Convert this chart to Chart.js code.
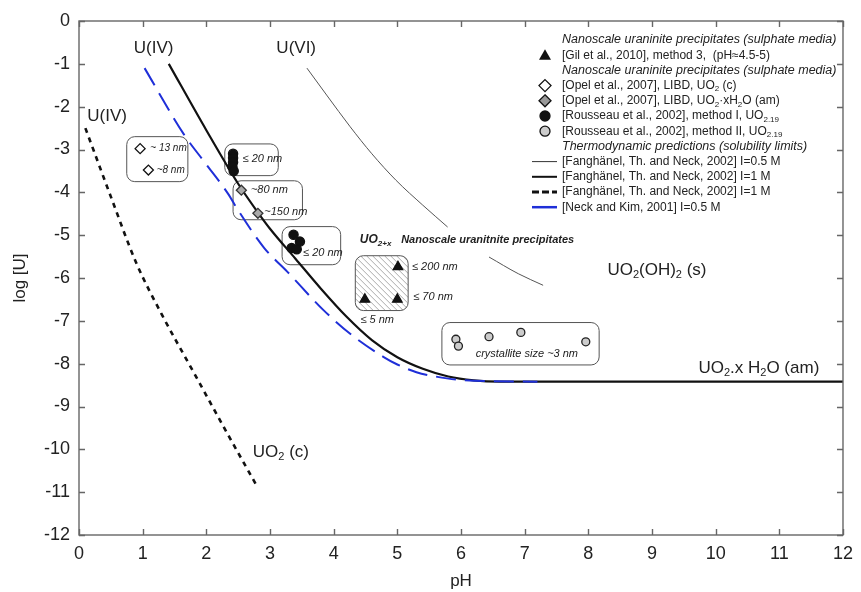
<!DOCTYPE html>
<html>
<head>
<meta charset="utf-8">
<title>log [U] vs pH</title>
<script src="https://cdn.jsdelivr.net/npm/chart.js"></script>
<style>
  html, body { margin: 0; padding: 0; background: #fff; }
</style>
</head>
<body>
<canvas id="uChart" width="861" height="592"></canvas>
<script>
// ---- solubility curves (pH, log[U]) ----
const u4PH   = [1.41, 2.0, 2.5, 2.8, 3.0, 3.4, 3.8, 4.2, 4.6, 5.0, 5.4, 5.8, 6.2, 6.6, 12];
const u4Log  = [-1.0, -2.55, -3.8, -4.45, -4.85, -5.55, -6.25, -6.9, -7.45, -7.85, -8.12, -8.3, -8.39, -8.42, -8.42];
const nkPH   = [1.03, 1.64, 2.0, 2.34, 2.5, 2.91, 3.27, 3.84, 4.3, 4.78, 5.0, 5.3, 5.6, 6.0, 7.2];
const nkLog  = [-1.1, -2.63, -3.35, -4.03, -4.42, -5.3, -5.85, -6.75, -7.35, -7.84, -8.02, -8.2, -8.3, -8.38, -8.42];
const uo2cPH  = [0.1, 0.5, 0.9, 1.3, 1.8, 2.3, 2.81];
const uo2cLog = [-2.5, -4.1, -5.65, -6.85, -8.2, -9.55, -10.9];
// U(VI) curve, interrupted where the label crosses it
const u6aPH  = [3.58, 3.9, 4.26, 4.6, 4.98, 5.4, 5.79];
const u6aLog = [-1.1, -1.75, -2.47, -3.1, -3.72, -4.3, -4.81];
const u6bPH  = [6.44, 6.9, 7.29];
const u6bLog = [-5.51, -5.9, -6.17];

// ---- measured points ----
const gilPH   = [5.01, 4.49, 5.0];
const gilLog  = [-5.74, -6.5, -6.5];
const opelcPH  = [0.96, 1.09];
const opelcLog = [-2.98, -3.48];
const opelaPH  = [2.55, 2.81];
const opelaLog = [-3.95, -4.49];
const rous1PH  = [2.42, 2.42, 2.42, 2.41, 2.43, 3.37, 3.47, 3.34, 3.42];
const rous1Log = [-3.1, -3.2, -3.3, -3.4, -3.5, -4.99, -5.15, -5.3, -5.33];
const rous2PH  = [5.92, 5.96, 6.44, 6.94, 7.96];
const rous2Log = [-7.43, -7.59, -7.37, -7.27, -7.49];

const xTicks = [0, 1, 2, 3, 4, 5, 6, 7, 8, 9, 10, 11, 12];
const yTicks = [0, -1, -2, -3, -4, -5, -6, -7, -8, -9, -10, -11, -12];

// boxes round the point groups, in data units [pH0, pH1, log0, log1]
const boxes = [
  [0.75, 1.71, -2.70, -3.75],
  [2.29, 3.13, -2.87, -3.61],
  [2.42, 3.51, -3.73, -4.64],
  [3.19, 4.11, -4.80, -5.69],
  [5.70, 8.17, -7.04, -8.03]
];
const hatchBox = [4.34, 5.17, -5.48, -6.76];

// labels in the plot: [text, pH, log, font]
const FONT = '"Liberation Sans", Arial, sans-serif';
const NARROW = '"Liberation Sans Narrow", "Liberation Sans", Arial, sans-serif';
const plotLabels = [
  ['U(IV)', 0.86, -0.64, '17px ' + FONT],
  ['U(VI)', 3.10, -0.63, '17px ' + FONT],
  ['U(IV)', 0.13, -2.23, '17px ' + FONT],
  ['UO_{2}(OH)_{2} (s)', 8.3, -5.81, '17px ' + FONT],
  ['UO_{2}.x H_{2}O (am)', 9.73, -8.10, '17px ' + FONT],
  ['UO_{2} (c)', 2.73, -10.06, '17px ' + FONT],
  ['~ 13 nm', 1.12, -2.96, 'italic 10px ' + NARROW],
  ['~8 nm', 1.22, -3.48, 'italic 10px ' + NARROW],
  ['\u2264 20 nm', 2.57, -3.22, 'italic 11px ' + NARROW],
  ['~80 nm', 2.70, -3.94, 'italic 11px ' + NARROW],
  ['~150 nm', 2.91, -4.45, 'italic 11px ' + NARROW],
  ['\u2264 20 nm', 3.52, -5.42, 'italic 11px ' + NARROW],
  ['UO_{2+x}', 4.41, -5.11, 'bold italic 12px ' + FONT],
  ['Nanoscale uranitnite precipitates', 5.06, -5.11, 'bold italic 11px ' + FONT],
  ['\u2264 200 nm', 5.23, -5.75, 'italic 11px ' + NARROW],
  ['\u2264 70 nm', 5.25, -6.45, 'italic 11px ' + NARROW],
  ['\u2264 5 nm', 4.42, -6.98, 'italic 11px ' + NARROW],
  ['crystallite size ~3 nm', 6.23, -7.77, 'italic 11px ' + NARROW]
];

// legend rows: [marker, text]
const legendRows = [
  ['head', 'Nanoscale uraninite precipitates (sulphate media)'],
  ['tri', '[Gil et al., 2010], method 3,  (pH\u22484.5-5)'],
  ['head', 'Nanoscale uraninite precipitates (sulphate media)'],
  ['dia', '[Opel et al., 2007], LIBD, UO_{2} (c)'],
  ['diaGrey', '[Opel et al., 2007], LIBD, UO_{2}\u00b7xH_{2}O (am)'],
  ['dot', '[Rousseau et al., 2002], method I, UO_{2.19}'],
  ['dotGrey', '[Rousseau et al., 2002], method II, UO_{2.19}'],
  ['head', 'Thermodynamic predictions (solubility limits)'],
  ['thin', '[Fangh\u00e4nel, Th. and Neck, 2002] I=0.5 M'],
  ['thick', '[Fangh\u00e4nel, Th. and Neck, 2002] I=1 M'],
  ['dash', '[Fangh\u00e4nel, Th. and Neck, 2002] I=1 M'],
  ['blue', '[Neck and Kim, 2001] I=0.5 M']
];

function pts(xs, ys) {
  return xs.map((x, i) => ({ x: x, y: ys[i] }));
}

// text with _{...} subscripts
function richText(ctx, str, x, y, font) {
  const parts = str.split(/_\{([^}]*)\}/);
  const m = font.match(/([\d.]+)px/);
  const size = m ? +m[1] : 12;
  let cx = x;
  parts.forEach((t, i) => {
    if (!t) return;
    const sub = i % 2 === 1;
    ctx.font = sub ? font.replace(/[\d.]+px/, Math.round(size * 0.65) + 'px') : font;
    ctx.fillText(t, cx, sub ? y + size * 0.3 : y);
    cx += ctx.measureText(t).width;
  });
}

function marker(ctx, kind, x, y) {
  ctx.save();
  ctx.lineWidth = 1.3;
  ctx.strokeStyle = '#111';
  ctx.beginPath();
  if (kind === 'tri') {
    ctx.moveTo(x, y - 6); ctx.lineTo(x + 6, y + 4.5); ctx.lineTo(x - 6, y + 4.5); ctx.closePath();
    ctx.fillStyle = '#111'; ctx.fill();
  } else if (kind === 'dia' || kind === 'diaGrey') {
    ctx.moveTo(x, y - 6); ctx.lineTo(x + 6, y); ctx.lineTo(x, y + 6); ctx.lineTo(x - 6, y); ctx.closePath();
    ctx.fillStyle = kind === 'dia' ? '#fff' : '#999'; ctx.fill(); ctx.stroke();
  } else if (kind === 'dot' || kind === 'dotGrey') {
    ctx.arc(x, y, 5, 0, Math.PI * 2);
    ctx.fillStyle = kind === 'dot' ? '#111' : '#ccc'; ctx.fill(); ctx.stroke();
  } else {
    ctx.moveTo(x - 13, y); ctx.lineTo(x + 12, y);
    if (kind === 'thin') { ctx.lineWidth = 1; ctx.strokeStyle = '#333'; }
    if (kind === 'thick') { ctx.lineWidth = 2; }
    if (kind === 'dash') { ctx.lineWidth = 3; ctx.setLineDash([7, 3]); }
    if (kind === 'blue') { ctx.lineWidth = 2.5; ctx.strokeStyle = '#1f2fd8'; }
    ctx.stroke();
  }
  ctx.restore();
}

const decorPlugin = {
  id: 'decor',
  beforeDatasetsDraw(chart) {
    const { ctx, scales: { x, y } } = chart;
    ctx.save();
    // rounded boxes
    ctx.strokeStyle = '#555';
    ctx.lineWidth = 1;
    boxes.forEach(b => {
      const l = x.getPixelForValue(b[0]), r = x.getPixelForValue(b[1]);
      const t = y.getPixelForValue(b[2]), btm = y.getPixelForValue(b[3]);
      ctx.beginPath();
      ctx.roundRect(l, t, r - l, btm - t, 8);
      ctx.stroke();
    });
    // hatched box
    const hl = x.getPixelForValue(hatchBox[0]), hr = x.getPixelForValue(hatchBox[1]);
    const ht = y.getPixelForValue(hatchBox[2]), hb = y.getPixelForValue(hatchBox[3]);
    ctx.save();
    ctx.beginPath();
    ctx.roundRect(hl, ht, hr - hl, hb - ht, 8);
    ctx.clip();
    ctx.strokeStyle = '#aaa';
    ctx.lineWidth = 1;
    for (let s = -(hb - ht); s < hr - hl; s += 6) {
      ctx.beginPath();
      ctx.moveTo(hl + s, ht);
      ctx.lineTo(hl + s + (hb - ht), hb);
      ctx.stroke();
    }
    ctx.restore();
    ctx.beginPath();
    ctx.roundRect(hl, ht, hr - hl, hb - ht, 8);
    ctx.stroke();
    ctx.restore();
  },
  afterDraw(chart) {
    const { ctx, chartArea: a, scales: { x, y } } = chart;
    ctx.save();
    // frame and inward ticks
    ctx.strokeStyle = '#666';
    ctx.lineWidth = 1.4;
    ctx.strokeRect(a.left, a.top, a.right - a.left, a.bottom - a.top);
    ctx.beginPath();
    xTicks.forEach(v => {
      const px = Math.round(x.getPixelForValue(v)) + 0.5;
      ctx.moveTo(px, a.bottom); ctx.lineTo(px, a.bottom - 6);
      ctx.moveTo(px, a.top); ctx.lineTo(px, a.top + 6);
    });
    yTicks.forEach(v => {
      const py = Math.round(y.getPixelForValue(v)) + 0.5;
      ctx.moveTo(a.left, py); ctx.lineTo(a.left + 6, py);
      ctx.moveTo(a.right, py); ctx.lineTo(a.right - 6, py);
    });
    ctx.stroke();

    // plot labels
    ctx.fillStyle = '#222';
    ctx.textBaseline = 'middle';
    ctx.textAlign = 'left';
    plotLabels.forEach(l => {
      richText(ctx, l[0], x.getPixelForValue(l[1]), y.getPixelForValue(l[2]), l[3]);
    });

    // legend
    legendRows.forEach((row, i) => {
      const ly = 40 + i * 15.2;
      ctx.fillStyle = '#222';
      if (row[0] === 'head') {
        richText(ctx, row[1], 562, ly, 'italic 12.5px ' + FONT);
      } else {
        marker(ctx, row[0], 545, ly);
        ctx.fillStyle = '#222';
        richText(ctx, row[1], 562, ly, '12px ' + FONT);
      }
    });
    ctx.restore();
  }
};

const pointSet = (label, xs, ys, style, radius, bg, border) => ({
  label: label,
  data: pts(xs, ys),
  showLine: false,
  pointStyle: style,
  pointRadius: radius,
  pointBackgroundColor: bg,
  pointBorderColor: border,
  pointBorderWidth: 1.3
});

const lineSet = (label, xs, ys, color, width, dash) => ({
  label: label,
  data: pts(xs, ys),
  showLine: true,
  borderColor: color,
  borderWidth: width,
  borderDash: dash,
  pointRadius: 0,
  cubicInterpolationMode: 'monotone',
  fill: false
});

new Chart(document.getElementById('uChart'), {
  type: 'scatter',
  data: {
    datasets: [
      pointSet('Gil 2010', gilPH, gilLog, 'triangle', 5.5, '#111', '#111'),
      pointSet('Opel UO2(c)', opelcPH, opelcLog, 'rectRot', 5, '#fff', '#111'),
      pointSet('Opel UO2 am', opelaPH, opelaLog, 'rectRot', 5, '#aaa', '#333'),
      pointSet('Rousseau I', rous1PH, rous1Log, 'circle', 4.6, '#111', '#111'),
      pointSet('Rousseau II', rous2PH, rous2Log, 'circle', 4, '#ccc', '#222'),
      lineSet('Neck and Kim 2001', nkPH, nkLog, '#1f2fd8', 2, [20, 9]),
      lineSet('Fanghanel I=1 M', u4PH, u4Log, '#111', 2.2, []),
      lineSet('Fanghanel I=1 M dashed', uo2cPH, uo2cLog, '#111', 2.6, [5, 5]),
      lineSet('Fanghanel I=0.5 M', u6aPH, u6aLog, '#555', 1, []),
      lineSet('Fanghanel I=0.5 M (cont.)', u6bPH, u6bLog, '#555', 1, [])
    ]
  },
  options: {
    responsive: false,
    animation: false,
    devicePixelRatio: 1,
    layout: { padding: { top: 21, right: 10, left: 0, bottom: 0 } },
    plugins: { legend: { display: false }, tooltip: { enabled: false } },
    scales: {
      x: {
        type: 'linear', min: 0, max: 12,
        afterBuildTicks: s => { s.ticks = xTicks.map(v => ({ value: v })); },
        afterFit: s => { s.height = 57; },
        grid: { display: false, drawTicks: false },
        border: { display: false },
        ticks: { color: '#222', padding: 8, font: { family: FONT, size: 18 } },
        title: { display: true, text: 'pH', color: '#222', padding: { top: 0, bottom: 0 }, font: { family: FONT, size: 17 } }
      },
      y: {
        type: 'linear', min: -12, max: 0,
        afterBuildTicks: s => { s.ticks = yTicks.map(v => ({ value: v })); },
        afterFit: s => { s.width = 79; },
        grid: { display: false, drawTicks: false },
        border: { display: false },
        ticks: { color: '#222', padding: 9, font: { family: FONT, size: 18 } },
        title: { display: true, text: 'log [U]', color: '#222', padding: { top: 10, bottom: 0 }, font: { family: FONT, size: 17 } }
      }
    }
  },
  plugins: [decorPlugin]
});
</script>
</body>
</html>
